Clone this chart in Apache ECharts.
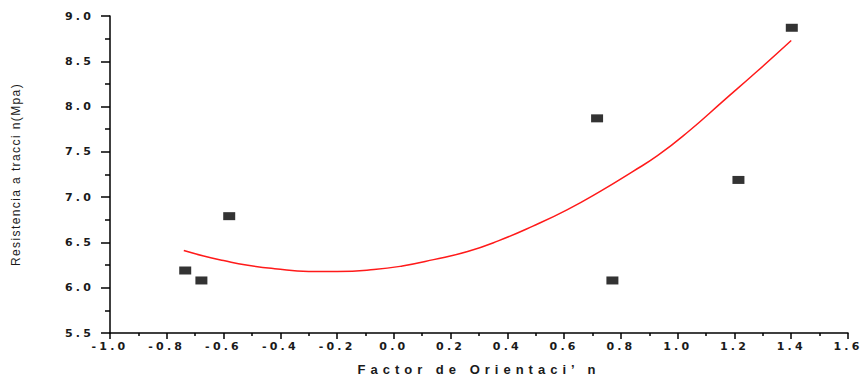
<!DOCTYPE html>
<html>
<head>
<meta charset="utf-8">
<script src="https://cdn.jsdelivr.net/npm/echarts@6/dist/echarts.min.js"></script>
<style>
  html, body { margin: 0; padding: 0; background: #fff; }
  #chart { width: 862px; height: 383px; }
  #chart text { letter-spacing: 3.2px; }
</style>
</head>
<body>
<div id="chart"></div>
<script>
// Measured samples: orientation factor vs tensile strength
const orientFactor = [-0.735, -0.678, -0.58, 0.716, 0.77, 1.214, 1.402];
const tensileStrength = [6.19, 6.08, 6.79, 7.87, 6.08, 7.19, 8.87];

// Quadratic trend curve, sampled along its length
const fitX = [-0.74, -0.67, -0.60, -0.52, -0.42, -0.30, -0.20, -0.07, 0.03, 0.14, 0.26,
              0.37, 0.49, 0.61, 0.73, 0.84, 0.93, 1.04, 1.16, 1.28, 1.40];
const fitY = [6.41, 6.35, 6.30, 6.25, 6.21, 6.18, 6.18, 6.20, 6.24, 6.31, 6.40,
              6.52, 6.68, 6.86, 7.07, 7.28, 7.46, 7.73, 8.06, 8.39, 8.73];

const xTitle = 'Factor de Orientaci\u2019 n';
const yTitle = 'Resistencia a tracci n(Mpa)';

const labelFont = { fontFamily: 'DejaVu Sans', fontSize: 11, fontWeight: 'bold', color: '#1a1a1a' };

const chart = echarts.init(document.getElementById('chart'), null, { renderer: 'svg' });
chart.setOption({
  animation: false,
  backgroundColor: '#fff',
  grid: { left: 110, right: 14, top: 16, bottom: 50 },
  xAxis: {
    type: 'value', min: -1.0, max: 1.6, interval: 0.2,
    axisLine: { onZero: false, lineStyle: { color: '#000', width: 1.5 } },
    axisTick: { length: 6, lineStyle: { color: '#000', width: 1.5 } },
    minorTick: { show: true, splitNumber: 2, length: 3, lineStyle: { color: '#000', width: 1.5 } },
    splitLine: { show: false },
    axisLabel: Object.assign({ margin: 8, formatter: v => v.toFixed(1) }, labelFont),
    name: xTitle, nameLocation: 'middle', nameGap: 30,
    nameTextStyle: { fontFamily: 'Liberation Sans', fontSize: 13, fontWeight: 'bold', color: '#1a1a1a' }
  },
  yAxis: {
    type: 'value', min: 5.5, max: 9.0, interval: 0.5,
    axisLine: { onZero: false, lineStyle: { color: '#000', width: 1.5 } },
    axisTick: { length: 9, lineStyle: { color: '#000', width: 1.5 } },
    minorTick: { show: true, splitNumber: 2, length: 5, lineStyle: { color: '#000', width: 1.5 } },
    splitLine: { show: false },
    axisLabel: Object.assign({ margin: 16, formatter: v => v.toFixed(1) }, labelFont),
    name: yTitle, nameLocation: 'middle', nameRotate: 90, nameGap: 88,
    nameTextStyle: { fontFamily: 'Liberation Sans', fontSize: 12, color: '#1a1a1a' }
  },
  series: [
    {
      type: 'line',
      data: fitX.map((x, i) => [x, fitY[i]]),
      smooth: 0.5,
      showSymbol: false,
      lineStyle: { color: '#ff1a1a', width: 1.5 },
      z: 2
    },
    {
      type: 'scatter',
      data: orientFactor.map((x, i) => [x, tensileStrength[i]]),
      symbol: 'rect',
      symbolSize: [12, 8],
      itemStyle: { color: '#000' },
      z: 3
    }
  ]
});

// Per-text letter spacing for the axis titles
document.querySelectorAll('#chart text').forEach(t => {
  if (t.textContent === xTitle) t.style.letterSpacing = '5px';
  if (t.textContent === yTitle) t.style.letterSpacing = '1.4px';
});
</script>
</body>
</html>
